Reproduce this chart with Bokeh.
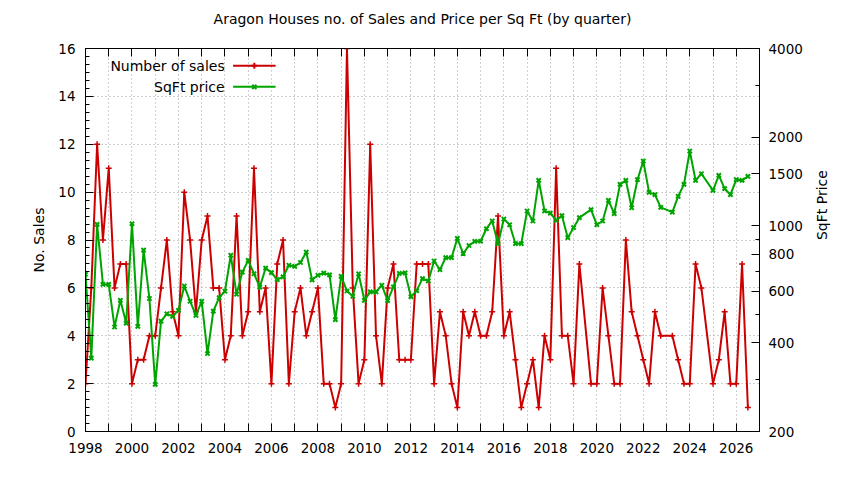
import math
from bokeh.plotting import figure
from bokeh.models import (Range1d, LogScale, LogAxis, LinearAxis, FixedTicker,
                          CustomJSTickFormatter, BasicTickFormatter, Label)
from bokeh.embed import file_html
from bokeh.resources import INLINE

# ---------------- data ----------------
missing_quarters = ["2019-Q3", "2023-Q1", "2024-Q4"]
quarters = [f"{y}-Q{q}" for y in range(1998, 2027) for q in (1, 2, 3, 4)]
quarters = [s for s in quarters[:115] if s not in missing_quarters]

sales = [2, 6, 12, 8, 11, 6, 7, 7,
         2, 3, 3, 4, 4, 6, 8, 5,
         4, 10, 8, 5, 8, 9, 6, 6,
         3, 4, 9, 4, 5, 11, 5, 6,
         2, 7, 8, 2, 5, 6, 4, 5,
         6, 2, 2, 1, 2, 16, 6, 2,
         3, 12, 4, 2, 6, 7, 3, 3,
         3, 7, 7, 7, 2, 5, 4, 2,
         1, 5, 4, 5, 4, 4, 5, 9,
         4, 5, 3, 1, 2, 3, 1, 4,
         3, 11, 4, 4, 2, 7, 2,
         2, 6, 4, 2, 2, 8, 5, 4,
         3, 2, 5, 4, 4, 3, 2,
         2, 7, 6, 2, 3, 5, 2,
         2, 7, 1]

price = [684, 355, 1011, 632, 632, 453, 558, 467,
         1016, 455, 826, 566, 289, 474, 502, 492,
         516, 624, 554, 496, 554, 368, 513, 570,
         599, 794, 585, 696, 763, 687, 619, 718,
         693, 656, 670, 734, 728, 750, 814, 655,
         679, 690, 681, 480, 673, 600, 576, 687,
         558, 596, 596, 628, 557, 620, 689, 692,
         574, 602, 661, 649, 759, 709, 779, 779,
         906, 804, 857, 885, 886, 977, 1038, 869,
         1054, 1008, 869, 869, 1122, 1038, 1426, 1122,
         1104, 1043, 1082, 911, 985, 1065, 1134,
         1008, 1038, 1220, 1100, 1382, 1426, 1151, 1434,
         1658, 1298, 1275, 1155, 1112, 1258, 1382,
         1794, 1426, 1502, 1318, 1482, 1336, 1275,
         1434, 1426, 1471]

year_ticks = list(range(1998, 2028))
sales_ticks = [0, 2, 4, 6, 8, 10, 12, 14, 16]
price_ticks = [200, 400, 600, 800, 1000, 1500, 2000, 4000]
price_minor = [300, 500, 700, 900, 3000]

title_text = "Aragon Houses no. of Sales and Price per Sq Ft (by quarter)"
sales_label = "Number of sales"
price_label = "SqFt price"
left_label = "No. Sales"
right_label = "SqFt Price"

# quarter label -> decimal year
t = [int(s[:4]) + (int(s[-1]) - 1) * 0.25 for s in quarters]

RED = "#cc0000"
GREEN = "#00a400"
FONT = "DejaVu Sans"
FS = "14px"
TFS = "13.5px"

X0, X1 = 1998, 2027
Y0, Y1 = 0, 16
W, H = 844, 480
ML, MR, MT, MB = 85, 85, 48, 49

p = figure(width=W, height=H, x_range=Range1d(X0, X1), y_range=Range1d(Y0, Y1),
           output_backend="svg", toolbar_location=None,
           min_border_left=ML, min_border_right=MR, min_border_top=MT, min_border_bottom=MB,
           background_fill_color="white", border_fill_color="white")
try:
    p.title = None
except Exception:
    p.title.visible = False
p.extra_y_ranges = {"price": Range1d(200, 4000)}
p.extra_y_scales = {"price": LogScale()}

p.outline_line_color = "black"
p.outline_line_width = 1

xticker = FixedTicker(ticks=year_ticks, minor_ticks=[])
yticker = FixedTicker(ticks=sales_ticks, minor_ticks=[k / 3 for k in range(49)])

def style_axis(ax):
    ax.major_label_text_font = FONT
    ax.major_label_text_font_size = TFS
    ax.major_label_text_color = "black"
    ax.axis_label_text_font = FONT
    ax.axis_label_text_font_size = FS
    ax.axis_label_text_font_style = "normal"
    ax.axis_label_text_color = "black"
    ax.axis_line_color = "black"
    ax.major_tick_line_color = "black"
    ax.minor_tick_line_color = "black"
    ax.major_tick_in = 8
    ax.major_tick_out = 0
    ax.minor_tick_in = 4
    ax.minor_tick_out = 0

xa = p.xaxis[0]
xa.ticker = xticker
xa.formatter = CustomJSTickFormatter(code="return (Math.round(tick) % 2 == 0) ? tick.toFixed(0) : '';")
style_axis(xa)
xa.major_label_standoff = 11

ya = p.yaxis[0]
ya.ticker = yticker
ya.axis_label = left_label
style_axis(ya)
ya.major_label_standoff = 10
ya.axis_label_standoff = 8

# top axis: mirrored year ticks, and it carries the chart title
top = LinearAxis(ticker=xticker, formatter=CustomJSTickFormatter(code="return '';"),
                 axis_label=title_text)
style_axis(top)
top.major_label_text_font_size = "1px"
top.major_label_standoff = 0
top.axis_label_standoff = 22
p.add_layout(top, "above")

ra = LogAxis(y_range_name="price",
             ticker=FixedTicker(ticks=price_ticks, minor_ticks=price_minor),
             formatter=BasicTickFormatter(use_scientific=False),
             axis_label=right_label)
style_axis(ra)
ra.major_label_standoff = 9
ra.axis_label_standoff = 16
try:
    ra.axis_label_orientation = math.pi / 2
except Exception:
    pass
p.add_layout(ra, "right")

p.xgrid.ticker = xticker
p.ygrid.ticker = FixedTicker(ticks=sales_ticks)
for g in (p.xgrid[0], p.ygrid[0]):
    g.grid_line_color = "#a0a0a0"
    g.grid_line_dash = "1 3"
    g.grid_line_width = 1

# series
p.line(t, sales, color=RED, line_width=2)
p.scatter(t, sales, marker="cross", size=6, color=RED, line_width=1.5)
p.line(t, price, color=GREEN, line_width=2, y_range_name="price")
p.scatter(t, price, marker="x", size=6, color=GREEN, line_width=2, y_range_name="price")

# gnuplot-style key (text right aligned, sample to the right)
def fx(f):
    return X0 + f * (X1 - X0)

def fy(f):
    return Y0 + f * (Y1 - Y0)

rows = [(sales_label, RED, "cross", 0.955), (price_label, GREEN, "x", 0.900)]
for lab, col, mk, yf in rows:
    yy = fy(yf)
    p.add_layout(Label(x=fx(0.2065), y=yy, text=lab, text_align="right", text_baseline="middle",
                       text_font=FONT, text_font_size=FS, text_color="black"))
    p.line([fx(0.219), fx(0.282)], [yy, yy], color=col, line_width=2)
    p.scatter([fx(0.2505)], [yy], marker=mk, size=6, color=col, line_width=2)

open("out.html", "w").write(file_html(p, INLINE))
